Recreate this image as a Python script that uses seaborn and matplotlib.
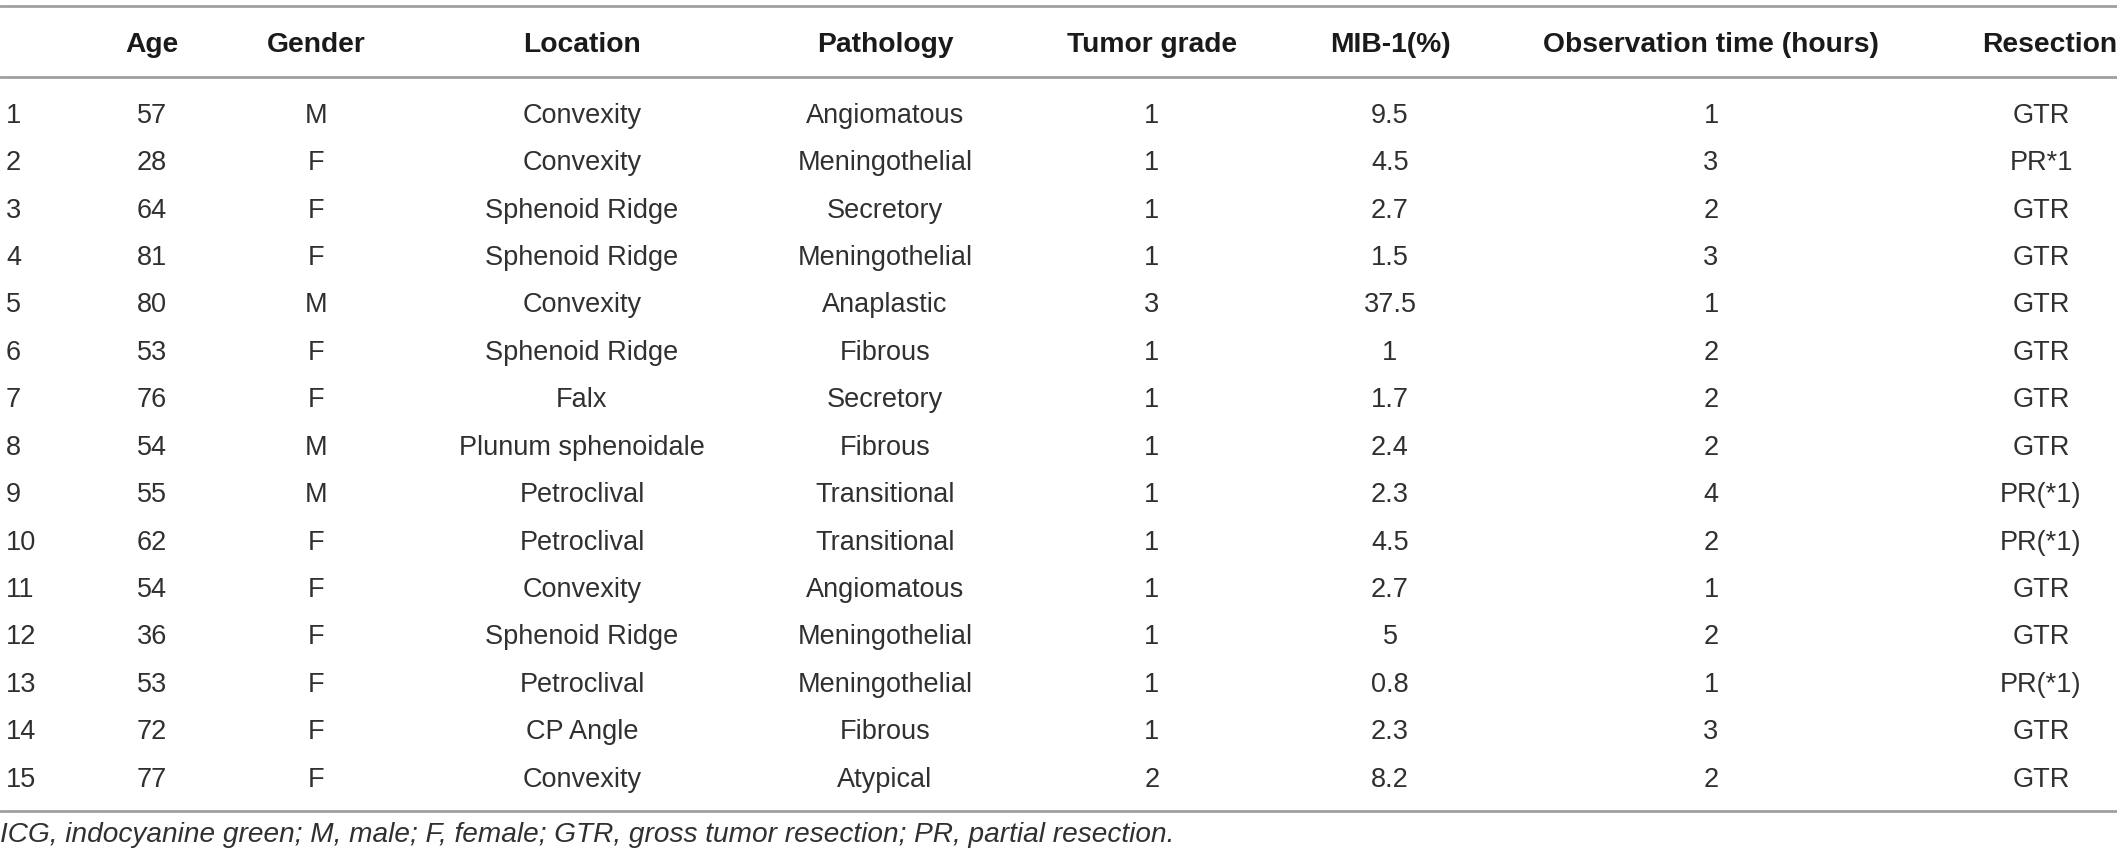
import matplotlib
matplotlib.use("Agg")
import matplotlib.pyplot as plt
import seaborn as sns
import pandas as pd

# ---------------- data ----------------
case_ids = [str(i) for i in range(1, 16)]
ages = [57, 28, 64, 81, 80, 53, 76, 54, 55, 62, 54, 36, 53, 72, 77]
genders = ["M", "F", "F", "F", "M", "F", "F", "M", "M", "F", "F", "F", "F", "F", "F"]
locations = ["Convexity", "Convexity", "Sphenoid Ridge", "Sphenoid Ridge", "Convexity",
             "Sphenoid Ridge", "Falx", "Plunum sphenoidale", "Petroclival", "Petroclival",
             "Convexity", "Sphenoid Ridge", "Petroclival", "CP Angle", "Convexity"]
pathologies = ["Angiomatous", "Meningothelial", "Secretory", "Meningothelial", "Anaplastic",
               "Fibrous", "Secretory", "Fibrous", "Transitional", "Transitional",
               "Angiomatous", "Meningothelial", "Meningothelial", "Fibrous", "Atypical"]
tumor_grades = [1, 1, 1, 1, 3, 1, 1, 1, 1, 1, 1, 1, 1, 1, 2]
mib1 = ["9.5", "4.5", "2.7", "1.5", "37.5", "1", "1.7", "2.4", "2.3", "4.5",
        "2.7", "5", "0.8", "2.3", "8.2"]
obs_hours = [1, 3, 2, 3, 1, 2, 2, 2, 4, 2, 1, 2, 1, 3, 2]
resections = ["GTR", "PR*1", "GTR", "GTR", "GTR", "GTR", "GTR", "GTR", "PR(*1)", "PR(*1)",
              "GTR", "GTR", "PR(*1)", "GTR", "GTR"]
headers = ["", "Age", "Gender", "Location", "Pathology", "Tumor grade", "MIB-1(%)",
           "Observation time (hours)", "Resection"]
footnote = ("ICG, indocyanine green; M, male; F, female; GTR, gross tumor resection; "
            "PR, partial resection.")

df = pd.DataFrame({
    "id": case_ids, "Age": ages, "Gender": genders, "Location": locations,
    "Pathology": pathologies, "Tumor grade": tumor_grades, "MIB-1(%)": mib1,
    "Observation time (hours)": obs_hours, "Resection": resections,
})

# ---------------- layout ----------------
W, H = 2117, 859
col_x = [6, 152, 316, 582, 885, 1152, 1390, 1711, 2041]
head_x = [6, 152, 316, 582, 885, 1152, 1390, 1711, 2050]
col_ha = ["left"] + ["center"] * 8
header_y = 42
row0_y = 113
row_step = 47.43
top_line, mid_line, bottom_line = 5.5, 77, 811
foot_y = 832

sns.set_theme(style="white")
plt.rcParams["font.family"] = ["Liberation Sans", "DejaVu Sans"]

fig = plt.figure(figsize=(W / 100, H / 100), dpi=100)
ax = fig.add_axes([0, 0, 1, 1])
ax.set_xlim(0, W)
ax.set_ylim(H, 0)
ax.axis("off")

fs_body = 19.5
fs_head = 20.3
fs_foot = 20.2


def half_cap(fs):
    return 0.716 * fs * 100 / 72 / 2  # half cap height in px


line_kw = dict(color="#a0a0a0", lw=2)
for yl in (top_line, mid_line, bottom_line):
    ax.plot([0, W], [yl, yl], **line_kw)

for x, ha, h in zip(head_x, col_ha, headers):
    ax.text(x, header_y + half_cap(fs_head), h, ha=ha, va="baseline", fontsize=fs_head,
            fontweight="bold", color="#1a1a1a")

cols = list(df.columns)
for r, row in df.iterrows():
    y = row0_y + r * row_step + half_cap(fs_body)
    for x, ha, c in zip(col_x, col_ha, cols):
        ax.text(x, y, str(row[c]), ha=ha, va="baseline", fontsize=fs_body,
                color="#303030")

ax.text(0, foot_y + half_cap(fs_foot), footnote, ha="left", va="baseline",
        fontsize=fs_foot, style="italic", color="#303030")

fig.savefig("out.png", dpi=100)
